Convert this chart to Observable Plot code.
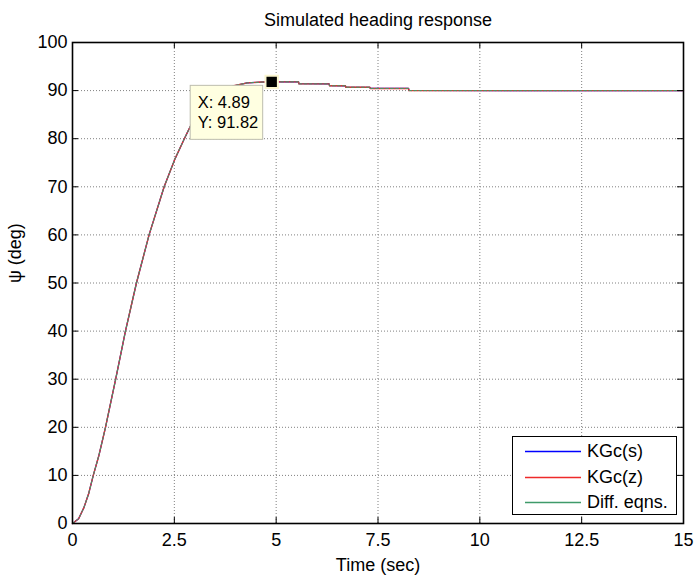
<!DOCTYPE html>
<html>
<head>
<meta charset="utf-8">
<script src="https://cdn.jsdelivr.net/npm/d3@7"></script>
<script src="https://cdn.jsdelivr.net/npm/@observablehq/plot@0.6"></script>
<style>
  body { margin: 0; background: #fff; font-family: "Liberation Sans", Arial, sans-serif; }
  #wrap { position: relative; width: 694px; height: 575px; }
  #legend { position: absolute; left: 512px; top: 436px; width: 165px; height: 79px;
            border: 1px solid #000; border-right-width: 1.5px; border-bottom-width: 1.5px;
            background: #fff; box-sizing: border-box; }
  .row { position: absolute; left: 0; height: 24px; width: 100%; }
  .row svg { position: absolute; left: 12px; top: 11px; }
  .row span { position: absolute; left: 74px; top: 1px; font-size: 18px; line-height: 22px; color: #000; white-space: nowrap; }
</style>
</head>
<body>
<div id="wrap"></div>
<script>
// ---- data ----
const titleText = "Simulated heading response";
const xLabel = "Time (sec)";
const yLabel = "\u03C8 (deg)";
const xTicks = [0, 2.5, 5, 7.5, 10, 12.5, 15];
const xTickLabels = ["0", "2.5", "5", "7.5", "10", "12.5", "15"];
const yTicks = [0, 10, 20, 30, 40, 50, 60, 70, 80, 90, 100];
const yTickLabels = ["0", "10", "20", "30", "40", "50", "60", "70", "80", "90", "100"];

const time = [0, 0.15, 0.28, 0.4, 0.51, 0.65, 0.81, 1.06, 1.3, 1.57, 1.88, 2.25, 2.51, 2.74, 2.9, 3.1, 3.35, 3.6, 3.96, 4.29, 4.66, 4.89, 5.1, 5.55, 5.56, 6.3, 6.31, 6.7, 6.71, 7.3, 7.31, 8.25, 8.26, 15];
const kgcS = [0, 1.0, 3.3, 6.3, 10, 14.2, 20, 30, 40, 50, 60, 70, 75.7, 79.9, 82.7, 85.3, 87.8, 89.6, 91.0, 91.6, 91.78, 91.82, 91.82, 91.8, 91.42, 91.4, 91.02, 91.0, 90.72, 90.7, 90.47, 90.45, 90.02, 90.0];
const kgcZ = [0, 1.0, 3.3, 6.3, 10, 14.2, 20, 30, 40, 50, 60, 70, 75.7, 79.9, 82.7, 85.3, 87.8, 89.6, 91.0, 91.6, 91.78, 91.82, 91.82, 91.82, 91.4, 91.4, 91.0, 91.0, 90.7, 90.7, 90.45, 90.45, 90.0, 90.0];
const diffEq = [0, 1.0, 3.3, 6.3, 10, 14.2, 20, 30, 40, 50, 60, 70, 75.7, 79.9, 82.7, 85.3, 87.8, 89.6, 91.0, 91.6, 91.78, 91.82, 91.82, 91.82, 91.4, 91.4, 91.0, 91.0, 90.7, 90.7, 90.45, 90.45, 90.0, 90.0];

const seriesNames = ["KGc(s)", "KGc(z)", "Diff. eqns."];
const seriesColors = ["#0000ff", "#ee2a2a", "#3f9a6a"];

const tipX = 4.89;
const tipY = 91.82;

// ---- build ----
const rows = (vals) => time.map((t, i) => ({t, v: vals[i]}));
const tip = [{x: tipX, y: tipY}];
const xInner = xTicks.slice(1, -1);
const yInner = yTicks.slice(1, -1);
const font = "'Liberation Sans', Arial, sans-serif";

const chart = Plot.plot({
  width: 694,
  height: 575,
  marginLeft: 72,
  marginRight: 11,
  marginTop: 42,
  marginBottom: 52,
  style: {fontFamily: font, fontSize: "18px", background: "#fff", color: "#000"},
  x: {domain: [0, 15]},
  y: {domain: [0, 100]},
  marks: [
    Plot.gridX(xInner, {stroke: "#808080", strokeOpacity: 1, strokeDasharray: "1,2"}),
    Plot.gridY(yInner, {stroke: "#808080", strokeOpacity: 1, strokeDasharray: "1,2"}),
    Plot.line(rows(kgcS), {x: "t", y: "v", stroke: seriesColors[0], strokeWidth: 1.2}),
    Plot.line(rows(kgcZ), {x: "t", y: "v", stroke: seriesColors[1], strokeWidth: 1.4}),
    Plot.line(rows(diffEq), {x: "t", y: "v", stroke: seriesColors[2], strokeWidth: 1.0, strokeDasharray: "3,2"}),
    // inward ticks on all four sides
    Plot.ruleX(xInner, {y1: 0, y2: 0, insetTop: -6, insetBottom: 0, stroke: "#000"}),
    Plot.ruleX(xInner, {y1: 100, y2: 100, insetTop: 0, insetBottom: -6, stroke: "#000"}),
    Plot.ruleY(yInner, {x1: 0, x2: 0, insetLeft: 0, insetRight: -6, stroke: "#000"}),
    Plot.ruleY(yInner, {x1: 15, x2: 15, insetLeft: -6, insetRight: 0, stroke: "#000"}),
    Plot.frame({stroke: "#000", strokeWidth: 1.6}),
    Plot.axisX(xTicks, {tickSize: 0, tickPadding: 10, fontSize: 18, label: null,
      tickFormat: (d) => xTickLabels[xTicks.indexOf(d)]}),
    Plot.axisY(yTicks, {tickSize: 0, tickPadding: 5, fontSize: 18, label: null,
      tickFormat: (d) => yTickLabels[yTicks.indexOf(d)]}),
    Plot.text([titleText], {text: (d) => d, frameAnchor: "top", lineAnchor: "middle", dy: -22, fontSize: 18}),
    Plot.text([xLabel], {text: (d) => d, frameAnchor: "bottom", lineAnchor: "middle", dy: 42, fontSize: 18}),
    Plot.text([yLabel], {text: (d) => d, frameAnchor: "left", lineAnchor: "middle", dx: -57, rotate: -90, fontSize: 18}),
    // data tip
    Plot.rect(tip, {x1: "x", x2: "x", y1: "y", y2: "y", insetLeft: -81, insetRight: 8.5,
      insetTop: 4, insetBottom: -58, fill: "#ffffe1", stroke: "#bdbdae", strokeWidth: 1}),
    Plot.text(tip, {x: "x", y: "y", text: (d) => `X: ${d.x.toFixed(2)}`, dx: -74, dy: 21,
      textAnchor: "start", fontSize: 16.5}),
    Plot.text(tip, {x: "x", y: "y", text: (d) => `Y: ${d.y.toFixed(2)}`, dx: -74, dy: 41,
      textAnchor: "start", fontSize: 16.5}),
    Plot.dot(tip, {x: "x", y: "y", symbol: "square", r: 7, fill: "#000", stroke: "#fbf6cf", strokeWidth: 2})
  ]
});

const wrap = document.getElementById("wrap");
wrap.appendChild(chart);

// legend
const legend = document.createElement("div");
legend.id = "legend";
seriesNames.forEach((name, i) => {
  const row = document.createElement("div");
  row.className = "row";
  row.style.top = (2 + i * 25.5) + "px";
  row.innerHTML = `<svg width="56" height="3"><line x1="0" y1="1.5" x2="56" y2="1.5" stroke="${seriesColors[i]}" stroke-width="1.3"/></svg><span>${name}</span>`;
  legend.appendChild(row);
});
wrap.appendChild(legend);
</script>
</body>
</html>
